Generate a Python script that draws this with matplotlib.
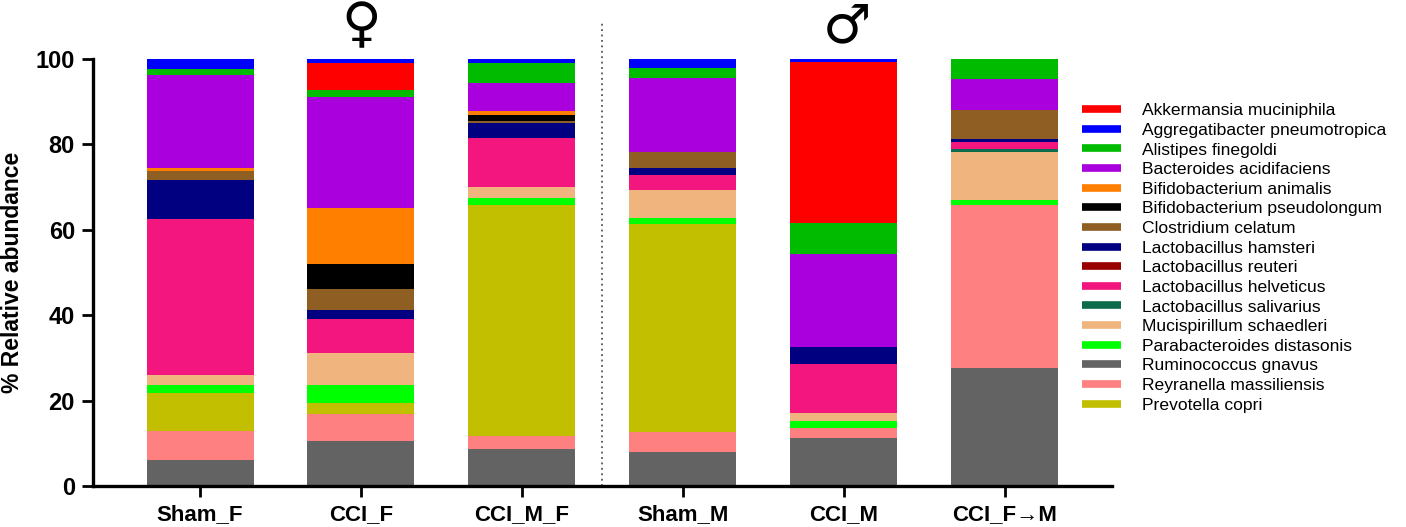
import matplotlib
matplotlib.use("Agg")
import matplotlib.pyplot as plt
from matplotlib.lines import Line2D
import numpy as np

groups = ["Sham_F", "CCI_F", "CCI_M_F", "Sham_M", "CCI_M", "CCI_F\u2192M"]

# stacking order (bottom -> top)
taxa = [
    "Ruminococcus gnavus",
    "Reyranella massiliensis",
    "Prevotella copri",
    "Parabacteroides distasonis",
    "Mucispirillum schaedleri",
    "Lactobacillus salivarius",
    "Lactobacillus helveticus",
    "Lactobacillus reuteri",
    "Lactobacillus hamsteri",
    "Clostridium celatum",
    "Bifidobacterium pseudolongum",
    "Bifidobacterium animalis",
    "Bacteroides acidifaciens",
    "Alistipes finegoldi",
    "Akkermansia muciniphila",
    "Aggregatibacter pneumotropica",
]

colors = {
    "Akkermansia muciniphila": "#FF0000",
    "Aggregatibacter pneumotropica": "#0000FF",
    "Alistipes finegoldi": "#00BB00",
    "Bacteroides acidifaciens": "#AA00DD",
    "Bifidobacterium animalis": "#FF8000",
    "Bifidobacterium pseudolongum": "#000000",
    "Clostridium celatum": "#8F5E22",
    "Lactobacillus hamsteri": "#000080",
    "Lactobacillus reuteri": "#990000",
    "Lactobacillus helveticus": "#F2167E",
    "Lactobacillus salivarius": "#0B6B4C",
    "Mucispirillum schaedleri": "#F0B47E",
    "Parabacteroides distasonis": "#00FF00",
    "Ruminococcus gnavus": "#636363",
    "Reyranella massiliensis": "#FF8080",
    "Prevotella copri": "#C2BF00",
}

legend_order = [
    "Akkermansia muciniphila",
    "Aggregatibacter pneumotropica",
    "Alistipes finegoldi",
    "Bacteroides acidifaciens",
    "Bifidobacterium animalis",
    "Bifidobacterium pseudolongum",
    "Clostridium celatum",
    "Lactobacillus hamsteri",
    "Lactobacillus reuteri",
    "Lactobacillus helveticus",
    "Lactobacillus salivarius",
    "Mucispirillum schaedleri",
    "Parabacteroides distasonis",
    "Ruminococcus gnavus",
    "Reyranella massiliensis",
    "Prevotella copri",
]

# values per group, in stacking order above
sham_f    = [6.1, 6.8, 8.8, 2.0, 2.3, 0.0, 36.5, 0.0, 9.2, 2.1, 0.0, 0.7, 21.8, 1.3, 0.0, 2.4]
cci_f     = [10.5, 6.3, 2.6, 4.3, 7.5, 0.0, 7.8, 0.0, 2.2, 4.9, 5.8, 13.1, 26.0, 1.7, 6.3, 1.0]
cci_m_f   = [8.7, 3.1, 53.9, 1.8, 2.6, 0.0, 11.3, 0.0, 3.7, 0.4, 1.3, 1.1, 6.4, 4.7, 0.0, 1.0]
sham_m    = [8.0, 4.6, 48.8, 1.3, 6.6, 0.0, 3.5, 0.0, 1.6, 3.9, 0.0, 0.0, 17.3, 2.4, 0.0, 2.0]
cci_m     = [11.3, 2.4, 0.0, 1.6, 1.9, 0.0, 11.4, 0.0, 4.0, 0.0, 0.0, 0.0, 21.7, 7.4, 37.7, 0.6]
cci_f_m   = [27.7, 38.0, 0.0, 1.3, 11.2, 0.7, 1.7, 0.0, 0.7, 6.7, 0.0, 0.0, 7.2, 4.8, 0.0, 0.0]

data = np.array([sham_f, cci_f, cci_m_f, sham_m, cci_m, cci_f_m])  # groups x taxa

plt.rcParams["font.family"] = ["Liberation Sans", "DejaVu Sans"]

fig = plt.figure(figsize=(14.06, 5.27), dpi=100)
ax = fig.add_axes([93/1406, 1-486/527, (1112-93)/1406, (486-59)/527])

x = np.arange(len(groups))
bottom = np.zeros(len(groups))
for j, t in enumerate(taxa):
    vals = data[:, j]
    ax.bar(x, vals, width=0.665, bottom=bottom, color=colors[t], linewidth=0)
    bottom += vals

ax.set_xlim(-0.665, 5.667)
ax.set_ylim(0, 100)
ax.set_yticks([0, 20, 40, 60, 80, 100])
ax.set_xticks(x)
ax.set_xticklabels(groups, fontsize=16, fontweight="bold")
for lab in ax.get_yticklabels():
    lab.set_fontsize(17)
    lab.set_fontweight("bold")
ax.set_ylabel("% Relative abundance", fontsize=16.5, fontweight="bold")
ax.yaxis.set_label_coords(-0.068, 0.5)

for s in ["top", "right"]:
    ax.spines[s].set_visible(False)
for s in ["left", "bottom"]:
    ax.spines[s].set_linewidth(2.4)
ax.tick_params(axis="both", width=2.0, length=8, pad=5, direction="out")

# separator
ax.plot([2.5, 2.5], [0, 109], linestyle=(0, (1, 2)), color="#555555", lw=1.3, clip_on=False)

# sex symbols
ax.text(1, 107.7, "\u2640", fontsize=39, ha="center", va="center", family="DejaVu Sans")
ax.text(4.02, 107.5, "\u2642", fontsize=39, ha="center", va="center", family="DejaVu Sans")

handles = [Line2D([0], [0], color=colors[t], lw=5.5, solid_capstyle="butt") for t in legend_order]
leg = fig.legend(handles, legend_order, loc="upper left", bbox_to_anchor=(1082/1406, 1-103/527),
                 frameon=False, fontsize=12.6, handlelength=2.2, handletextpad=1.2,
                 labelspacing=0.25, borderaxespad=0, borderpad=0)

fig.savefig("out.png", dpi=100)
